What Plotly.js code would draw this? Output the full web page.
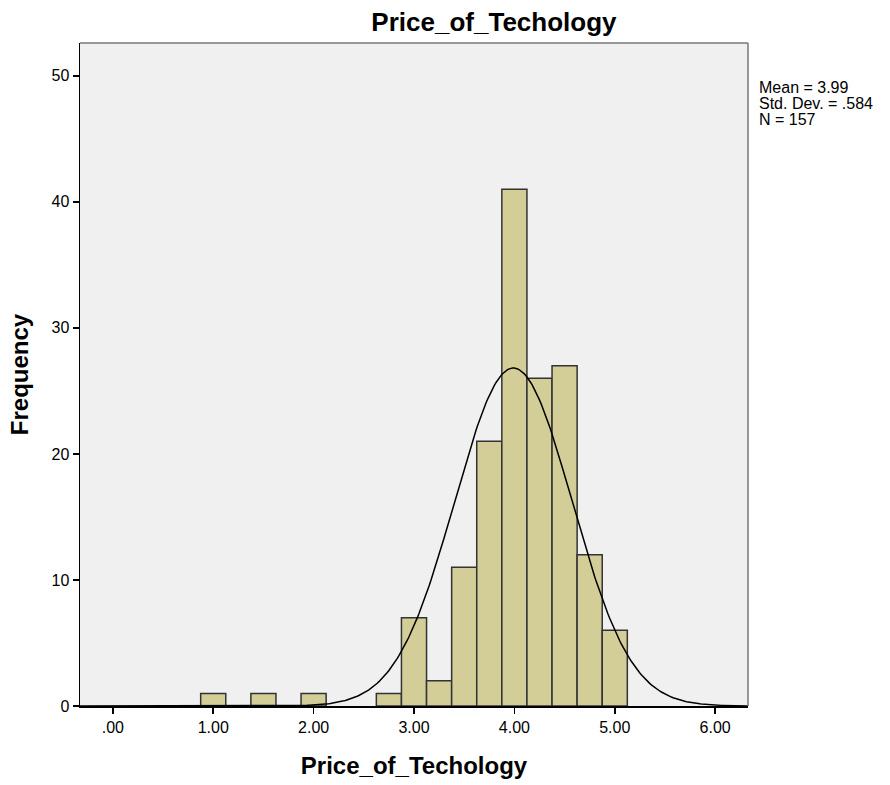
<!DOCTYPE html>
<html>
<head>
<meta charset="utf-8">
<script src="https://cdn.plot.ly/plotly-3.0.1.min.js"></script>
<style>html,body{margin:0;padding:0;background:#fff;}#chart{width:890px;height:785px;}</style>
</head>
<body>
<div id="chart"></div>
<script>
// Histogram bins (centers) and frequencies
const binCenters = [1.0, 1.5, 2.0, 2.75, 3.0, 3.25, 3.5, 3.75, 4.0, 4.25, 4.5, 4.75, 5.0];
const frequencies = [1, 1, 1, 1, 7, 2, 11, 21, 41, 26, 27, 12, 6];
const binWidth = 0.25;
const xTickVals = [0, 1, 2, 3, 4, 5, 6];
const xTickText = ['.00', '1.00', '2.00', '3.00', '4.00', '5.00', '6.00'];
const yTickVals = [0, 10, 20, 30, 40, 50];
const statLines = ['Mean = 3.99', 'Std. Dev. = .584', 'N = 157'];
const MEAN = 3.99, SD = 0.584, N = 157;

// Normal curve overlay (scaled to histogram counts)
const curveX = [], curveY = [];
for (let i = 0; i <= 400; i++) {
  const x = -0.33 + i * (6.66 / 400);
  const z = (x - MEAN) / SD;
  curveX.push(x);
  curveY.push(N * binWidth * Math.exp(-0.5 * z * z) / (SD * Math.sqrt(2 * Math.PI)));
}

const traces = [
  {type: 'bar', x: binCenters, y: frequencies, width: binWidth,
   marker: {color: '#D3CE97', line: {color: '#333333', width: 1.5}}, hoverinfo: 'x+y'},
  {type: 'scatter', mode: 'lines', x: curveX, y: curveY,
   line: {color: '#000000', width: 1.5}, hoverinfo: 'skip'}
];

const annotations = statLines.map((t, i) => ({
  xref: 'paper', yref: 'paper', x: 1.014, y: (706 - 87 - i * 16) / 663, xanchor: 'left', yanchor: 'middle',
  align: 'left', showarrow: false, font: {size: 16, color: '#000'}, text: t
}));

const layout = {
  width: 890, height: 785,
  margin: {l: 80, r: 142, t: 43, b: 79},
  paper_bgcolor: '#ffffff', plot_bgcolor: '#F0F0F0',
  showlegend: false,
  font: {family: 'Liberation Sans, Arial, sans-serif', color: '#000'},
  title: {text: '<b>Price_of_Techology</b>', font: {size: 26, color: '#000'},
          x: 0.555, xanchor: 'center', y: 1 - 22 / 785, yanchor: 'middle'},
  xaxis: {range: [-0.327, 6.327], tickvals: xTickVals, ticktext: xTickText,
          ticks: 'outside', ticklen: 6, tickwidth: 1.5, tickcolor: '#000',
          showgrid: false, zeroline: false, showline: true, linecolor: '#000', linewidth: 1.5,
          tickfont: {size: 16, color: '#000'},
          title: {text: '<b>Price_of_Techology</b>', font: {size: 24, color: '#000'}, standoff: 22}},
  yaxis: {range: [0, 52.6], tickvals: yTickVals,
          ticks: 'outside', ticklen: 6, tickwidth: 1.5, tickcolor: '#000',
          showgrid: false, zeroline: false, showline: true, linecolor: '#000', linewidth: 1.5,
          tickfont: {size: 16, color: '#000'},
          title: {text: '<b>Frequency</b>', font: {size: 24, color: '#000'}, standoff: 16}},
  shapes: [
    {type: 'line', xref: 'paper', yref: 'paper', x0: 0, x1: 1, y0: 1, y1: 1, line: {color: '#777', width: 1.5}},
    {type: 'line', xref: 'paper', yref: 'paper', x0: 1, x1: 1, y0: 0, y1: 1, line: {color: '#777', width: 1.5}}
  ],
  annotations: annotations
};

Plotly.newPlot('chart', traces, layout, {displayModeBar: false, staticPlot: true});
</script>
</body>
</html>
